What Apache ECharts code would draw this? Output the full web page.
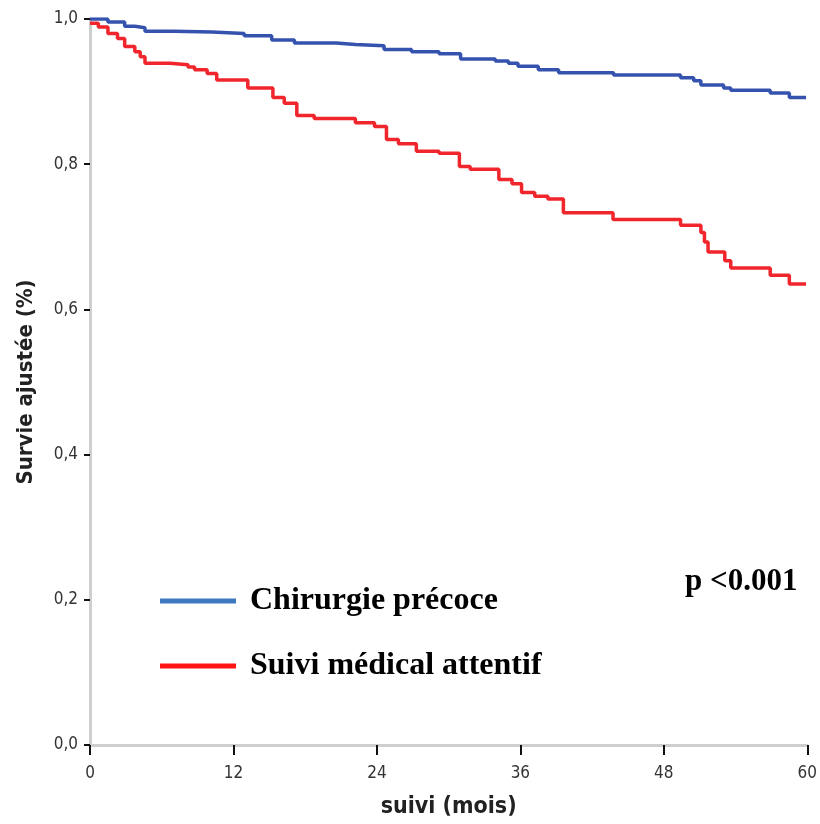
<!DOCTYPE html>
<html>
<head>
<meta charset="utf-8">
<script src="https://cdn.jsdelivr.net/npm/echarts@6/dist/echarts.min.js"></script>
<style>
html,body{margin:0;padding:0;background:#fff;}
#chart{width:820px;height:824px;}
</style>
</head>
<body>
<div id="chart"></div>
<script>
// Data (time in months, adjusted survival)
const seriesNames = ["Chirurgie précoce", "Suivi médical attentif"];
const xTicks = [0, 12, 24, 36, 48, 60];
const yTicks = [0, 0.2, 0.4, 0.6, 0.8, 1.0];

const chirurgieTime = [0, 1.5, 2.9, 3.75, 4.6, 7.0, 10.2, 12.9, 15.2, 17.1, 20.6, 22.2, 24.6, 26.9, 29.2, 31.0, 33.9, 35.0, 35.8, 37.5, 39.2, 43.8, 49.4, 50.5, 51.1, 53.0, 53.6, 56.9, 58.5, 59.9];
const chirurgieSurv = [1.0, 0.996, 0.990, 0.988, 0.983, 0.982, 0.980, 0.977, 0.971, 0.967, 0.965, 0.963, 0.958, 0.955, 0.952, 0.945, 0.942, 0.939, 0.935, 0.930, 0.926, 0.923, 0.919, 0.915, 0.909, 0.905, 0.902, 0.898, 0.892, 0.892];

const suiviTime = [0, 0.7, 1.5, 2.3, 2.9, 3.75, 4.2, 4.6, 6.7, 8.2, 8.75, 9.8, 10.6, 13.2, 15.3, 16.25, 17.3, 18.75, 22.2, 23.8, 24.8, 25.8, 27.3, 29.2, 30.9, 31.8, 34.2, 35.3, 36.1, 37.2, 38.3, 39.6, 43.75, 49.4, 51.1, 51.4, 51.7, 53.1, 53.6, 56.9, 58.5, 59.9];
const suiviSurv = [0.994, 0.989, 0.980, 0.973, 0.962, 0.955, 0.948, 0.939, 0.937, 0.934, 0.930, 0.925, 0.916, 0.905, 0.892, 0.884, 0.867, 0.863, 0.857, 0.852, 0.834, 0.828, 0.818, 0.815, 0.797, 0.793, 0.779, 0.773, 0.761, 0.756, 0.752, 0.733, 0.724, 0.716, 0.706, 0.693, 0.679, 0.667, 0.657, 0.647, 0.635, 0.635];

const pValueText = "p <0.001";

function pairs(t, s) { return t.map((v, i) => [v, s[i]]); }

const axisFont = '"Liberation Sans Narrow","DejaVu Sans Condensed","Liberation Sans",sans-serif';
const serifFont = '"Liberation Serif","Times New Roman",serif';

const chart = echarts.init(document.getElementById('chart'), null, {renderer: 'canvas'});
chart.setOption({
  backgroundColor: '#ffffff',
  animation: false,
  grid: {left: 90, right: 10, top: 19, bottom: 78, containLabel: false},
  xAxis: {
    type: 'value', min: xTicks[0], max: xTicks[xTicks.length - 1], interval: 12,
    name: 'suivi (mois)', nameLocation: 'middle', nameGap: 51,
    nameTextStyle: {fontFamily: axisFont, fontWeight: 'bold', fontSize: 23, color: '#222'},
    axisLine: {show: true, lineStyle: {color: '#cfcfcf', width: 3}},
    axisTick: {show: true, length: 10, lineStyle: {color: '#111', width: 2}},
    axisLabel: {fontFamily: axisFont, fontSize: 17, color: '#333', margin: 20},
    splitLine: {show: false}
  },
  yAxis: {
    type: 'value', min: yTicks[0], max: yTicks[yTicks.length - 1], interval: 0.2,
    name: 'Survie ajustée (%)', nameLocation: 'middle', nameGap: 53, nameRotate: 90,
    nameTextStyle: {fontFamily: axisFont, fontWeight: 'bold', fontSize: 22, color: '#222'},
    axisLine: {show: true, lineStyle: {color: '#cfcfcf', width: 3}},
    axisTick: {show: true, length: 6, lineStyle: {color: '#111', width: 2}},
    axisLabel: {fontFamily: axisFont, fontSize: 17, color: '#333', margin: 12,
      formatter: v => v.toFixed(1).replace('.', ',')},
    splitLine: {show: false}
  },
  legend: {
    orient: 'vertical', left: 155, top: 578, icon: 'rect',
    itemWidth: 76, itemHeight: 5, itemGap: 29,
    data: [
      {name: seriesNames[0], itemStyle: {color: '#3e78bf'}},
      {name: seriesNames[1], itemStyle: {color: '#ff1414'}}
    ],
    textStyle: {fontFamily: serifFont, fontWeight: 'bold', fontSize: 32, color: '#000', lineHeight: 36, padding: [0, 0, 0, 9]}
  },
  graphic: [{
    type: 'text', left: 685, top: 566,
    style: {text: pValueText, font: 'bold 31px ' + serifFont, fill: '#000'}
  }],
  series: [
    {name: seriesNames[0], type: 'line', step: 'end', showSymbol: false, symbol: 'none',
      data: pairs(chirurgieTime, chirurgieSurv), lineStyle: {color: '#3553ae', width: 3.5}, itemStyle: {color: '#3553ae'}, z: 3},
    {name: seriesNames[1], type: 'line', step: 'end', showSymbol: false, symbol: 'none',
      data: pairs(suiviTime, suiviSurv), lineStyle: {color: '#f0262c', width: 3.5}, itemStyle: {color: '#f0262c'}, z: 2}
  ]
});
</script>
</body>
</html>
